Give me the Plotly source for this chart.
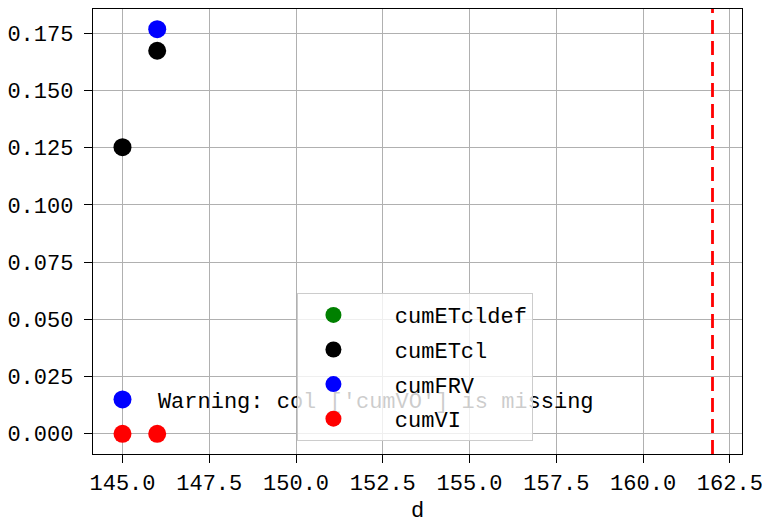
import plotly.graph_objects as go

# Day-of-year values and cumulative series
days = [145, 146]
cum_etcl_def = [None, None]
cum_etcl = [0.1252, 0.1673]
cum_frv = [0.015, 0.1767]
cum_vi = [0.0, 0.0]
series_names = ["cumETcldef", "cumETcl", "cumFRV", "cumVI"]
series_colors = ["green", "black", "blue", "red"]
marker_day = 162.0
warning_text = "Warning: col ['cumVO'] is missing"

x_ticks = [145.0, 147.5, 150.0, 152.5, 155.0, 157.5, 160.0, 162.5]
y_ticks = [0.0, 0.025, 0.05, 0.075, 0.1, 0.125, 0.15, 0.175]

FONT = "Liberation Mono"
FS = 22

# Axis limits with 5% padding around the data (and the reference line)
xs = days + [marker_day]
xmin, xmax = min(xs), max(xs)
xpad = 0.05 * (xmax - xmin)
xr = [xmin - xpad, xmax + xpad]
ys = [v for s in (cum_etcl_def, cum_etcl, cum_frv, cum_vi) for v in s if v is not None]
ymin, ymax = min(ys), max(ys)
ypad = 0.05 * (ymax - ymin)
yr = [ymin - ypad, ymax + ypad]

fig = go.Figure()

# Warning text placed in axes-fraction terms, converted to data coordinates
fig.add_trace(go.Scatter(
    x=[xr[0] + 0.1 * (xr[1] - xr[0])],
    y=[yr[0] + 0.116 * (yr[1] - yr[0])],
    mode="text", text=[warning_text], textposition="middle right",
    textfont=dict(family=FONT, size=FS, color="black"),
    showlegend=False, hoverinfo="skip",
))

for name, color, vals in zip(series_names, series_colors,
                             [cum_etcl_def, cum_etcl, cum_frv, cum_vi]):
    fig.add_trace(go.Scatter(
        x=days, y=vals, mode="markers",
        name="\u00a0\u00a0" + name, legendgroup=name,
        marker=dict(color=color, size=18, line=dict(width=0)),
    ))

fig.add_vline(x=marker_day, line=dict(color="red", width=2.8, dash="14px,7px"))

axis_common = dict(
    showline=True, linecolor="black", linewidth=1.3, mirror=True,
    ticks="outside", ticklen=8, tickwidth=1.3, tickcolor="black",
    showgrid=True, gridcolor="#b0b0b0", gridwidth=1.2,
    zeroline=False, automargin=False, ticklabeloverflow="allow",
    tickfont=dict(family=FONT, size=FS, color="black"),
)

fig.update_layout(
    width=762, height=524,
    margin=dict(l=93, r=20, t=9, b=70),
    paper_bgcolor="white", plot_bgcolor="white",
    font=dict(family=FONT, size=FS, color="black"),
    xaxis=dict(range=xr, tickvals=x_ticks,
               ticktext=[f"{v:.1f}" for v in x_ticks],
               ticklabelstandoff=0,
               title=dict(text="d", font=dict(family=FONT, size=FS), standoff=15),
               **axis_common),
    yaxis=dict(range=yr, tickvals=y_ticks,
               ticktext=[f"{v:.3f}" for v in y_ticks],
               ticklabelstandoff=6,
               **axis_common),
    legend=dict(
        x=0.315, y=0.029, xanchor="left", yanchor="bottom",
        bgcolor="rgba(255,255,255,0.8)", bordercolor="#cccccc", borderwidth=1,
        font=dict(family=FONT, size=FS, color="black"),
        itemwidth=60, tracegroupgap=3,
    ),
    showlegend=True,
)

fig.write_html("out.html")
